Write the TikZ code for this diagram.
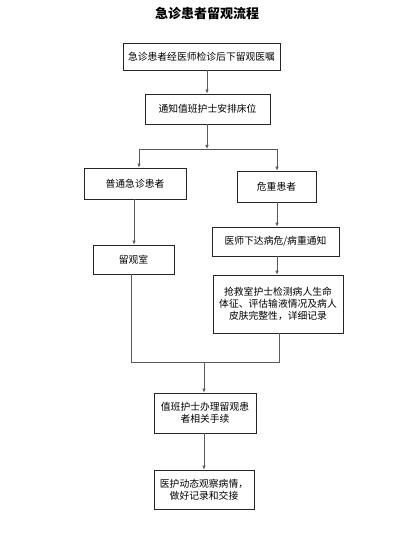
\documentclass[tikz,border=0pt]{standalone}
\usepackage{fontspec}
\setmainfont{Noto Sans CJK SC}
\usetikzlibrary{arrows.meta,calc}
\begin{document}
\begin{tikzpicture}[x=1pt,y=-1pt,
  box/.style={draw=black!85,line width=0.7pt,inner sep=2pt,font=\fontsize{9.8}{12}\selectfont,align=center},
  conn/.style={draw=black!65,line width=0.7pt},
  arr/.style={conn,-{Latex[length=4pt,width=3.5pt]}}]
\useasboundingbox[fill=white] (0,0) rectangle (404,537);
\node[font=\fontsize{13}{15}\selectfont\bfseries] (title) at (207,14) {急诊患者留观流程};
\node[box,minimum width=157pt,minimum height=27pt] (b1) at (201.5,56.5) {急诊患者经医师检诊后下留观医嘱};
\node[box,minimum width=125pt,minimum height=30pt] (b2) at (207.5,109) {通知值班护士安排床位};
\node[box,minimum width=102pt,minimum height=31pt] (pt) at (135,183.5) {普通急诊患者};
\node[box,minimum width=79pt,minimum height=31pt] (wz) at (276.5,186.5) {危重患者};
\node[box,minimum width=127pt,minimum height=29pt] (ys) at (275.5,241.5) {医师下达病危/病重通知};
\node[box,minimum width=81pt,minimum height=29pt] (lg) at (133.5,259.5) {留观室};
\node[box,minimum width=130pt,minimum height=58pt] (qj) at (278,304) {抢救室护士检测病人生命\\体征、评估输液情况及病人\\皮肤完整性，详细记录};
\node[box,minimum width=102pt,minimum height=40pt] (zb) at (205,413) {值班护士办理留观患\\者相关手续};
\node[box,minimum width=100pt,minimum height=39pt] (yh) at (204,489.5) {医护动态观察病情，\\做好记录和交接};
\coordinate (s1) at (207,149);
\coordinate (sl) at (139,149);
\coordinate (sr) at (277,149);
\coordinate (j1) at (131,362);
\coordinate (j2) at (279,362);
\coordinate (jm) at (204,362);
\draw[arr] (b1.south -| 207,0) -- (b2.north -| 207,0);
\draw[arr] (b2.south -| s1) -- (s1);
\draw[conn] (sl) -- (sr);
\draw[arr] (sl) -- (sl |- pt.north);
\draw[arr] (sr) -- (sr |- wz.north);
\draw[arr] (pt.south -| 134,0) -- (lg.north -| 134,0);
\draw[arr] (wz.south -| 277,0) -- (ys.north -| 277,0);
\draw[arr] (ys.south -| 277,0) -- (qj.north -| 277,0);
\draw[conn] (lg.south -| j1) -- (j1) -- (j2) -- (qj.south -| j2);
\draw[arr] (jm) -- (zb.north -| jm);
\draw[arr] (zb.south -| jm) -- (yh.north -| jm);
\end{tikzpicture}
\end{document}
